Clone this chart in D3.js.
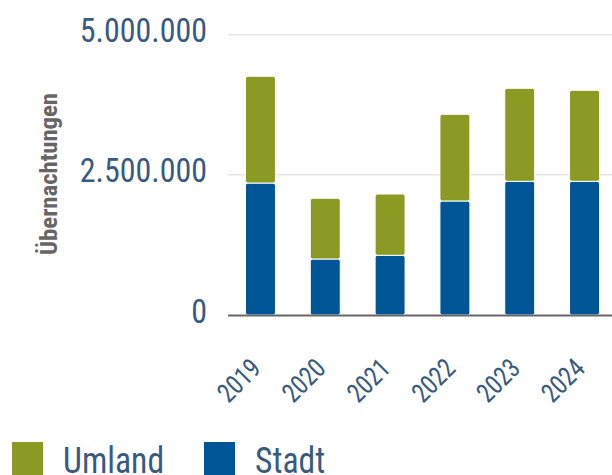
<!DOCTYPE html>
<html>
<head>
<meta charset="utf-8">
<script src="https://cdn.jsdelivr.net/npm/d3@7"></script>
<style>
  body { margin: 0; background: #fff; }
  text { font-family: "Roboto Condensed", Roboto, sans-serif; }
</style>
</head>
<body>
<svg id="chart" width="612" height="475"></svg>
<script>
// data
var years = ["2019", "2020", "2021", "2022", "2023", "2024"];
var stadt = [2354000, 999000, 1065000, 2034000, 2385000, 2385000];
var umland = [1904000, 1083000, 1093000, 1546000, 1659000, 1623000];
var yTicks = [0, 2500000, 5000000];
var seriesNames = ["Umland", "Stadt"];

var colors = { Umland: "#8a9a22", Stadt: "#005596" };
var tickColor = "#385a7e";

var svg = d3.select("#chart");

var x = d3.scaleBand().domain(years).range([228, 617]).paddingInner(0.538).paddingOuter(0.27);
var y = d3.scaleLinear().domain([0, 5000000]).range([315, 34.7]);

var fmt = function(v){
	return d3.format(",")(v).replace(/,/g, ".");
}

// gridlines
svg.append("g").selectAll("line")
	.data(yTicks.filter(function(d){ return d > 0; }))
	.enter().append("line")
	.attr("x1", 228).attr("x2", 612)
	.attr("y1", function(d){ return y(d); })
	.attr("y2", function(d){ return y(d); })
	.attr("stroke", "#e6e6e6").attr("stroke-width", 1.5);

// y tick labels
svg.append("g").selectAll("g")
	.data(yTicks)
	.enter().append("g")
	.attr("transform", function(d){ return "translate(207," + (y(d) + 7.5) + ") scale(0.94,1)"; })
	.append("text")
	.attr("text-anchor", "end")
	.attr("font-size", 34)
	.attr("fill", tickColor)
	.text(fmt);

// axis title
svg.append("g")
	.attr("transform", "translate(57,174) rotate(-90)")
	.append("text")
	.attr("text-anchor", "middle")
	.attr("font-size", 23)
	.attr("font-weight", "bold")
	.attr("fill", "#666")
	.attr("textLength", 162)
	.attr("lengthAdjust", "spacingAndGlyphs")
	.text("Übernachtungen");

// stacked bars
var rows = years.map(function(yr, i){ return { year: yr, Stadt: stadt[i], Umland: umland[i] }; });
var stack = d3.stack().keys(["Stadt", "Umland"])(rows);

svg.append("g").selectAll("g")
	.data(stack)
	.enter().append("g")
	.attr("fill", function(s){ return colors[s.key]; })
	.selectAll("rect")
	.data(function(s){ return s; })
	.enter().append("rect")
	.attr("x", function(d){ return x(d.data.year); })
	.attr("width", x.bandwidth())
	.attr("y", function(d){ return y(d[1]); })
	.attr("height", function(d){ return y(d[0]) - y(d[1]); })
	.attr("rx", 2.5)
	.attr("stroke", "#fff").attr("stroke-width", 1);

// baseline
svg.append("line")
	.attr("x1", 228).attr("x2", 612)
	.attr("y1", y(0) + 0.5).attr("y2", y(0) + 0.5)
	.attr("stroke", "#666").attr("stroke-width", 2);

// x labels
svg.append("g").selectAll("g")
	.data(years)
	.enter().append("g")
	.attr("transform", function(d){ return "translate(" + (x(d) + x.bandwidth() / 2 + 2) + ",370) rotate(-45) scale(0.9,1)"; })
	.append("text")
	.attr("text-anchor", "end")
	.attr("font-size", 27)
	.attr("fill", tickColor)
	.text(function(d){ return d; });

// legend
var legend = svg.append("g").selectAll("g")
	.data(seriesNames)
	.enter().append("g")
	.attr("transform", function(d, i){ return "translate(" + (12 + i * 192) + ",442)"; });

legend.append("rect")
	.attr("width", 31).attr("height", 33)
	.attr("fill", function(d){ return colors[d]; });

legend.append("g")
	.attr("transform", "translate(51,31) scale(0.91,1)")
	.append("text")
	.attr("font-size", 37)
	.attr("fill", tickColor)
	.text(function(d){ return d; });
</script>
</body>
</html>
